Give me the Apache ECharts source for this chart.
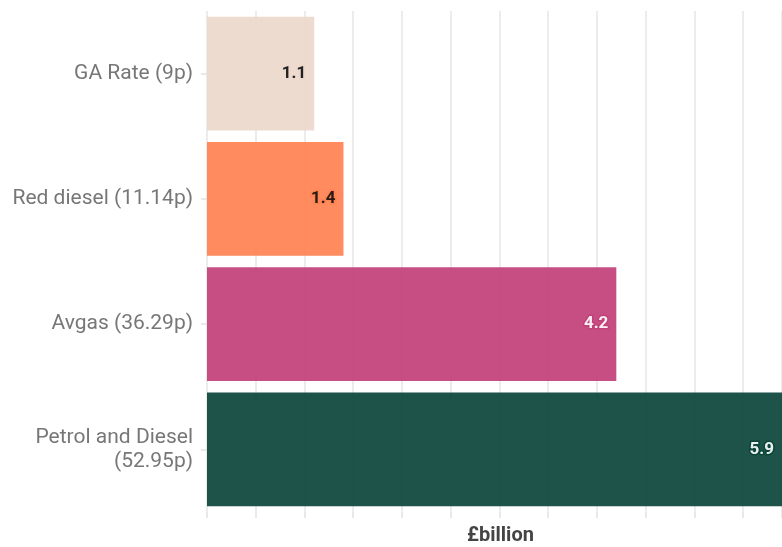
<!DOCTYPE html>
<html><head><meta charset="utf-8">
<script src="https://cdn.jsdelivr.net/npm/echarts@6/dist/echarts.min.js"></script>
<style>html,body{margin:0;padding:0;background:#fff}#c{width:782px;height:547px}</style>
</head><body><div id="c"></div>
<script>
const categories = ['GA Rate (9p)', 'Red diesel (11.14p)', 'Avgas (36.29p)', 'Petrol and Diesel\n(52.95p)'];
const values = [1.1, 1.4, 4.2, 5.9];
const barColors = ['#ecd8cc', '#ff8150', '#c23f78', '#0a443a'];
const labelColors = ['#111111', '#111111', '#ffffff', '#ffffff'];
const axisName = '£billion';

const chart = echarts.init(document.getElementById('c'));
chart.setOption({
  backgroundColor: '#fff',
  textStyle: { fontFamily: 'Roboto' },
  grid: { left: 207, right: 0, top: 11, bottom: 35, containLabel: false, outerBoundsMode: 'none' },
  xAxis: {
    type: 'value', min: 0, max: 5.9, interval: 0.5,
    name: axisName, nameLocation: 'middle', nameGap: 14,
    nameTextStyle: { fontFamily: 'Roboto', fontWeight: 'bold', fontSize: 20, color: '#444', padding: [0, 0, 0, 12] },
    axisLabel: { show: false },
    axisLine: { show: false },
    axisTick: { show: true, length: 6, lineStyle: { color: '#e2e2e2', width: 1.5 } },
    splitLine: { show: true, lineStyle: { color: '#e6e6e6', width: 1.5 } }
  },
  yAxis: {
    type: 'category', inverse: true, data: categories,
    axisLine: { show: false },
    axisTick: { show: true, length: 6, alignWithLabel: true, lineStyle: { color: '#e2e2e2', width: 1.5 } },
    axisLabel: { fontFamily: 'Roboto', fontSize: 21, color: '#777', margin: 14, lineHeight: 24, align: 'right' }
  },
  series: [{
    type: 'bar', barCategoryGap: '9%',
    data: values.map((v, i) => ({
      value: v,
      itemStyle: { color: barColors[i], opacity: 0.92 },
      label: { color: labelColors[i], textBorderColor: barColors[i], textBorderWidth: 3 }
    })),
    label: {
      show: true, position: 'insideRight', distance: 8,
      fontFamily: 'Roboto', fontWeight: 'bold', fontSize: 17,
      formatter: p => p.value.toFixed(1)
    }
  }]
});
</script></body></html>
